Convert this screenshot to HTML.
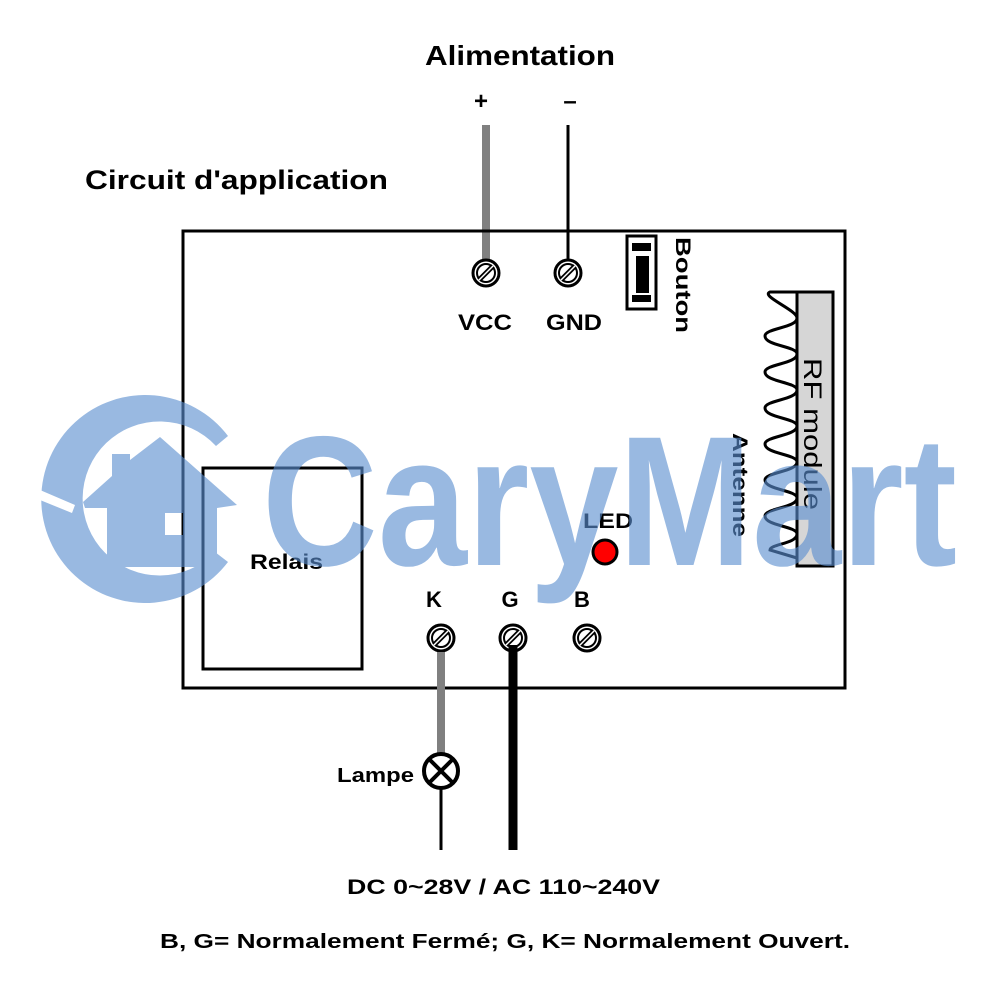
<!DOCTYPE html>
<html><head><style>
html,body{margin:0;padding:0;background:#fff;}
svg{display:block;}
text{font-family:"Liberation Sans",Arial,sans-serif;font-weight:bold;fill:#000;}
</style></head><body>
<svg width="1000" height="1000" viewBox="0 0 1000 1000">
<!-- titles -->
<text x="425" y="65" font-size="28" textLength="190" lengthAdjust="spacingAndGlyphs">Alimentation</text>
<text x="481" y="109" font-size="24" text-anchor="middle">+</text>
<text x="570" y="109" font-size="24" text-anchor="middle">–</text>
<text x="85" y="189" font-size="27" textLength="303" lengthAdjust="spacingAndGlyphs">Circuit d'application</text>

<!-- wires top -->
<line x1="486" y1="125" x2="486" y2="262" stroke="#808080" stroke-width="8"/>
<line x1="568" y1="125" x2="568" y2="262" stroke="#000" stroke-width="3"/>

<!-- main box -->
<rect x="183" y="231" width="662" height="457" fill="none" stroke="#000" stroke-width="3"/>
<rect x="203" y="468" width="159" height="201" fill="none" stroke="#000" stroke-width="3"/>
<text x="250" y="569" font-size="21" textLength="73" lengthAdjust="spacingAndGlyphs">Relais</text>

<!-- screws -->
<g fill="#fff" stroke="#000">
<g transform="translate(486,273)"><circle r="13" stroke-width="3"/><circle r="9" stroke-width="2"/><line x1="-7" y1="7" x2="7" y2="-7" stroke-width="5"/><line x1="-7" y1="7" x2="7" y2="-7" stroke="#fff" stroke-width="1.5"/></g>
<g transform="translate(568,273)"><circle r="13" stroke-width="3"/><circle r="9" stroke-width="2"/><line x1="-7" y1="7" x2="7" y2="-7" stroke-width="5"/><line x1="-7" y1="7" x2="7" y2="-7" stroke="#fff" stroke-width="1.5"/></g>
<g transform="translate(441,638)"><circle r="13" stroke-width="3"/><circle r="9" stroke-width="2"/><line x1="-7" y1="7" x2="7" y2="-7" stroke-width="5"/><line x1="-7" y1="7" x2="7" y2="-7" stroke="#fff" stroke-width="1.5"/></g>
<g transform="translate(513,638)"><circle r="13" stroke-width="3"/><circle r="9" stroke-width="2"/><line x1="-7" y1="7" x2="7" y2="-7" stroke-width="5"/><line x1="-7" y1="7" x2="7" y2="-7" stroke="#fff" stroke-width="1.5"/></g>
<g transform="translate(587,638)"><circle r="13" stroke-width="3"/><circle r="9" stroke-width="2"/><line x1="-7" y1="7" x2="7" y2="-7" stroke-width="5"/><line x1="-7" y1="7" x2="7" y2="-7" stroke="#fff" stroke-width="1.5"/></g>
</g>
<text x="458" y="330" font-size="22" textLength="54" lengthAdjust="spacingAndGlyphs">VCC</text>
<text x="546" y="330" font-size="22" textLength="56" lengthAdjust="spacingAndGlyphs">GND</text>
<text x="434" y="607" font-size="22" text-anchor="middle">K</text>
<text x="510" y="607" font-size="22" text-anchor="middle">G</text>
<text x="582" y="607" font-size="22" text-anchor="middle">B</text>

<!-- button -->
<rect x="627" y="236" width="29" height="73" fill="#fff" stroke="#000" stroke-width="3"/>
<rect x="632" y="243" width="19" height="8" fill="#000"/>
<rect x="636" y="256" width="13" height="37" fill="#000"/>
<rect x="632" y="295" width="19" height="7" fill="#000"/>
<text transform="translate(676,237) rotate(90)" font-size="21" textLength="96" lengthAdjust="spacingAndGlyphs">Bouton</text>

<!-- RF module -->
<rect x="797" y="292" width="36" height="274" fill="#d6d6d6" stroke="#000" stroke-width="3"/>
<text transform="translate(804,358) rotate(90)" font-size="25" style="font-weight:normal" textLength="152" lengthAdjust="spacingAndGlyphs">RF module</text>
<path fill="none" stroke="#000" stroke-width="3" d="M797,292 L770,292 C760,296 797,310 797,318 C797,328 765,328 765,336 C765,346 797,346 797,354 C797,364 765,364 765,372 C765,382 797,382 797,390 C797,400 765,400 765,408 C765,418 797,418 797,426 C797,436 765,436 765,444 C765,454 797,454 797,462 C797,472 765,472 765,480 C765,490 797,490 797,498 C797,508 765,508 765,516 C765,526 797,526 797,534 C797,544 770,544 770,550 L797,558"/>
<text transform="translate(733,433) rotate(90)" font-size="21" textLength="104" lengthAdjust="spacingAndGlyphs">Antenne</text>

<!-- LED -->
<text x="583" y="528" font-size="21" textLength="50" lengthAdjust="spacingAndGlyphs">LED</text>
<circle cx="605" cy="552" r="12" fill="#ff0000" stroke="#000" stroke-width="3"/>

<!-- bottom wires -->
<line x1="441" y1="652" x2="441" y2="753" stroke="#808080" stroke-width="8"/>
<line x1="513" y1="645" x2="513" y2="850" stroke="#000" stroke-width="9"/>
<circle cx="441" cy="771" r="17" fill="#fff" stroke="#000" stroke-width="4"/>
<line x1="429" y1="759" x2="453" y2="783" stroke="#000" stroke-width="4"/>
<line x1="453" y1="759" x2="429" y2="783" stroke="#000" stroke-width="4"/>
<line x1="441" y1="788" x2="441" y2="850" stroke="#000" stroke-width="3"/>
<text x="337" y="782" font-size="20" textLength="77" lengthAdjust="spacingAndGlyphs">Lampe</text>

<text x="347" y="894" font-size="21" textLength="313" lengthAdjust="spacingAndGlyphs">DC 0~28V / AC 110~240V</text>
<text x="160" y="948" font-size="20" textLength="690" lengthAdjust="spacingAndGlyphs">B, G= Normalement Fermé; G, K= Normalement Ouvert.</text>

<!-- watermark -->
<g opacity="0.62" fill="#5b8fd0">
<path d="M228,436 A104,104 0 1 0 228,562 L215,552 A77,77 0 1 1 216,446 Z"/>
<path fill-rule="evenodd" d="M160,437 L237,505 L217,508 L217,567 L107,567 L107,508 L85,508 L83,502 L112,476 L112,454 L130,454 L130,460 Z M165,513 L183,513 L183,535 L165,535 Z"/>
<text x="262" y="565" font-size="185" textLength="695" lengthAdjust="spacingAndGlyphs" style="fill:#5b8fd0">CaryMart</text>
</g>
<path d="M40,490 L75,505 L72,513 L40,500 Z" fill="#fff"/>
</svg>
</body></html>
